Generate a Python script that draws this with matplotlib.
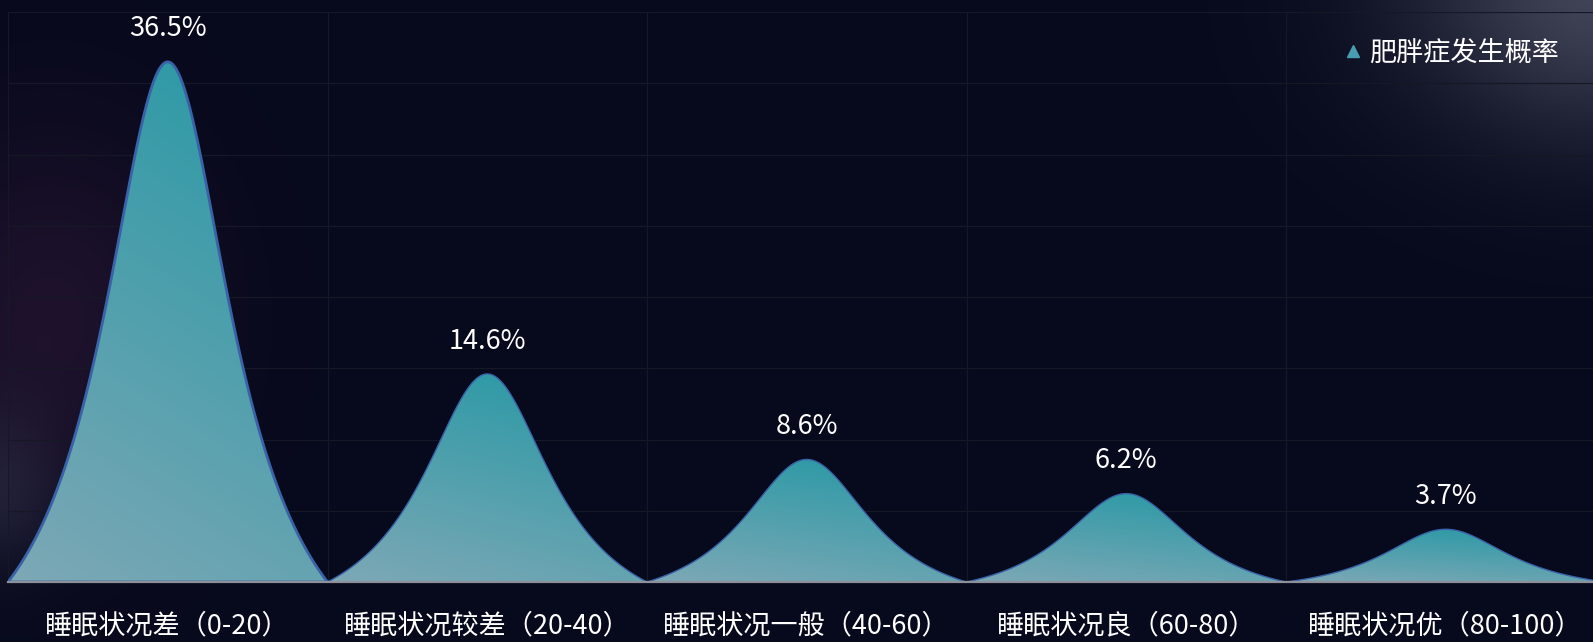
import numpy as np
import matplotlib
matplotlib.use("Agg")
import matplotlib.pyplot as plt
from matplotlib.path import Path
from matplotlib.patches import PathPatch
from matplotlib.lines import Line2D

plt.rcParams['font.family'] = ['Noto Sans CJK SC', 'DejaVu Sans']

categories = ['睡眠状况差（0-20）', '睡眠状况较差（20-40）', '睡眠状况一般（40-60）',
              '睡眠状况良（60-80）', '睡眠状况优（80-100）']
values = [36.5, 14.6, 8.6, 6.2, 3.7]
series_name = '肥胖症发生概率'
y_max = 40
y_step = 5

W, H = 1593, 642
fig = plt.figure(figsize=(W / 100, H / 100), dpi=100)

# ---- background with glows ----
bg_ax = fig.add_axes([0, 0, 1, 1], zorder=-10)
bg_ax.set_axis_off()
yy, xx = np.mgrid[0:H, 0:W].astype(float)
base = np.array([7, 9, 28], float)
img = np.ones((H, W, 3)) * base
def glow(cx, cy, rx, ry, col, strength):
    d2 = ((xx - cx) / rx) ** 2 + ((yy - cy) / ry) ** 2
    w = np.exp(-d2) * strength
    return w[..., None] * (np.array(col, float) - base)
img += glow(50, 320, 150, 190, (36, 20, 48), 0.8)
img += glow(1610, -15, 200, 150, (72, 74, 94), 0.9)
img += glow(0, 490, 60, 80, (35, 42, 62), 0.6)
img = np.clip(img, 0, 255) / 255.0
bg_ax.imshow(img, extent=[0, 1, 0, 1], aspect='auto', origin='upper')
bg_ax.set_xlim(0, 1)
bg_ax.set_ylim(0, 1)

# ---- main axes ----
left_px, right_px = 8, 1605.5
top_px, bot_px = 12, 582
ax = fig.add_axes([left_px / W, 1 - bot_px / H, (right_px - left_px) / W, (bot_px - top_px) / H])
ax.set_facecolor('none')
n = len(categories)
ax.set_xlim(-0.5, n - 0.5)
ax.set_ylim(0, y_max)

grid_col = '#161826'
for yv in np.arange(y_step, y_max + 0.1, y_step):
    ax.axhline(yv, color=grid_col, lw=0.9, zorder=0)
for xv in np.arange(-0.5, n, 1.0):
    ax.axvline(xv, color=grid_col, lw=0.9, zorder=0)

light = np.array([126, 168, 182]) / 255.0
teal = np.array([36, 152, 164]) / 255.0
gu = np.linspace(0, 1, 200)
gv = np.linspace(0, 1, 300)
GU, GV = np.meshgrid(gu, gv)

# peak symbol outline: unit bell profile (shape only, scaled by each value)
g = 0.5
su = np.linspace(-1, 1, 401)
lor = 1.0 / (1.0 + (su / g) ** 2)
lor1 = 1.0 / (1.0 + (1.0 / g) ** 2)
profile = (lor - lor1) / (1.0 - lor1)

for i, v in enumerate(values):
    hw = 0.5
    c = i
    px = c + hw * su
    py = v * profile
    verts = np.column_stack([np.r_[px, c - hw], np.r_[py, 0]])
    path = Path(verts, closed=True)
    t = np.clip(0.72 * GV + 0.28 * GU, 0, 1)[..., None]
    grad = light * (1 - t) + teal * t
    im = ax.imshow(grad, extent=[c - hw, c + hw, 0, v], origin='lower',
                   aspect='auto', zorder=2, interpolation='bilinear')
    patch = PathPatch(path, facecolor='none', edgecolor='#3a62a8',
                      lw=2.0 if i == 0 else 1.0, zorder=3, joinstyle='round')
    ax.add_patch(patch)
    clip = PathPatch(path, transform=ax.transData, facecolor='none', edgecolor='none')
    im.set_clip_path(clip)
    ax.annotate(f'{v}%', xy=(c, v), xytext=(0, 14), textcoords='offset points',
                ha='center', va='bottom', color='white', fontsize=19.5)

ax.set_xlim(-0.5, n - 0.5)
ax.set_ylim(0, y_max)

for s in ['top', 'right', 'left']:
    ax.spines[s].set_visible(False)
ax.spines['bottom'].set_color('#8c909a')
ax.spines['bottom'].set_linewidth(1.6)
ax.spines['bottom'].set_zorder(4)
ax.set_yticks([])
ax.set_xticks(range(n))
ax.set_xticklabels(categories, color='white', fontsize=19.5)
ax.tick_params(axis='x', length=0, pad=22)

handle = Line2D([], [], marker='^', linestyle='none', color='#4a9db0', markersize=9)
leg = fig.legend([handle], [series_name], loc='upper right',
                 bbox_to_anchor=(1570 / W, 1 - 29 / H), frameon=False,
                 fontsize=19.5, handletextpad=0.1, handlelength=1.0, borderaxespad=0)
for txt in leg.get_texts():
    txt.set_color('white')

fig.savefig('out.png', dpi=100, facecolor='#07091c')
